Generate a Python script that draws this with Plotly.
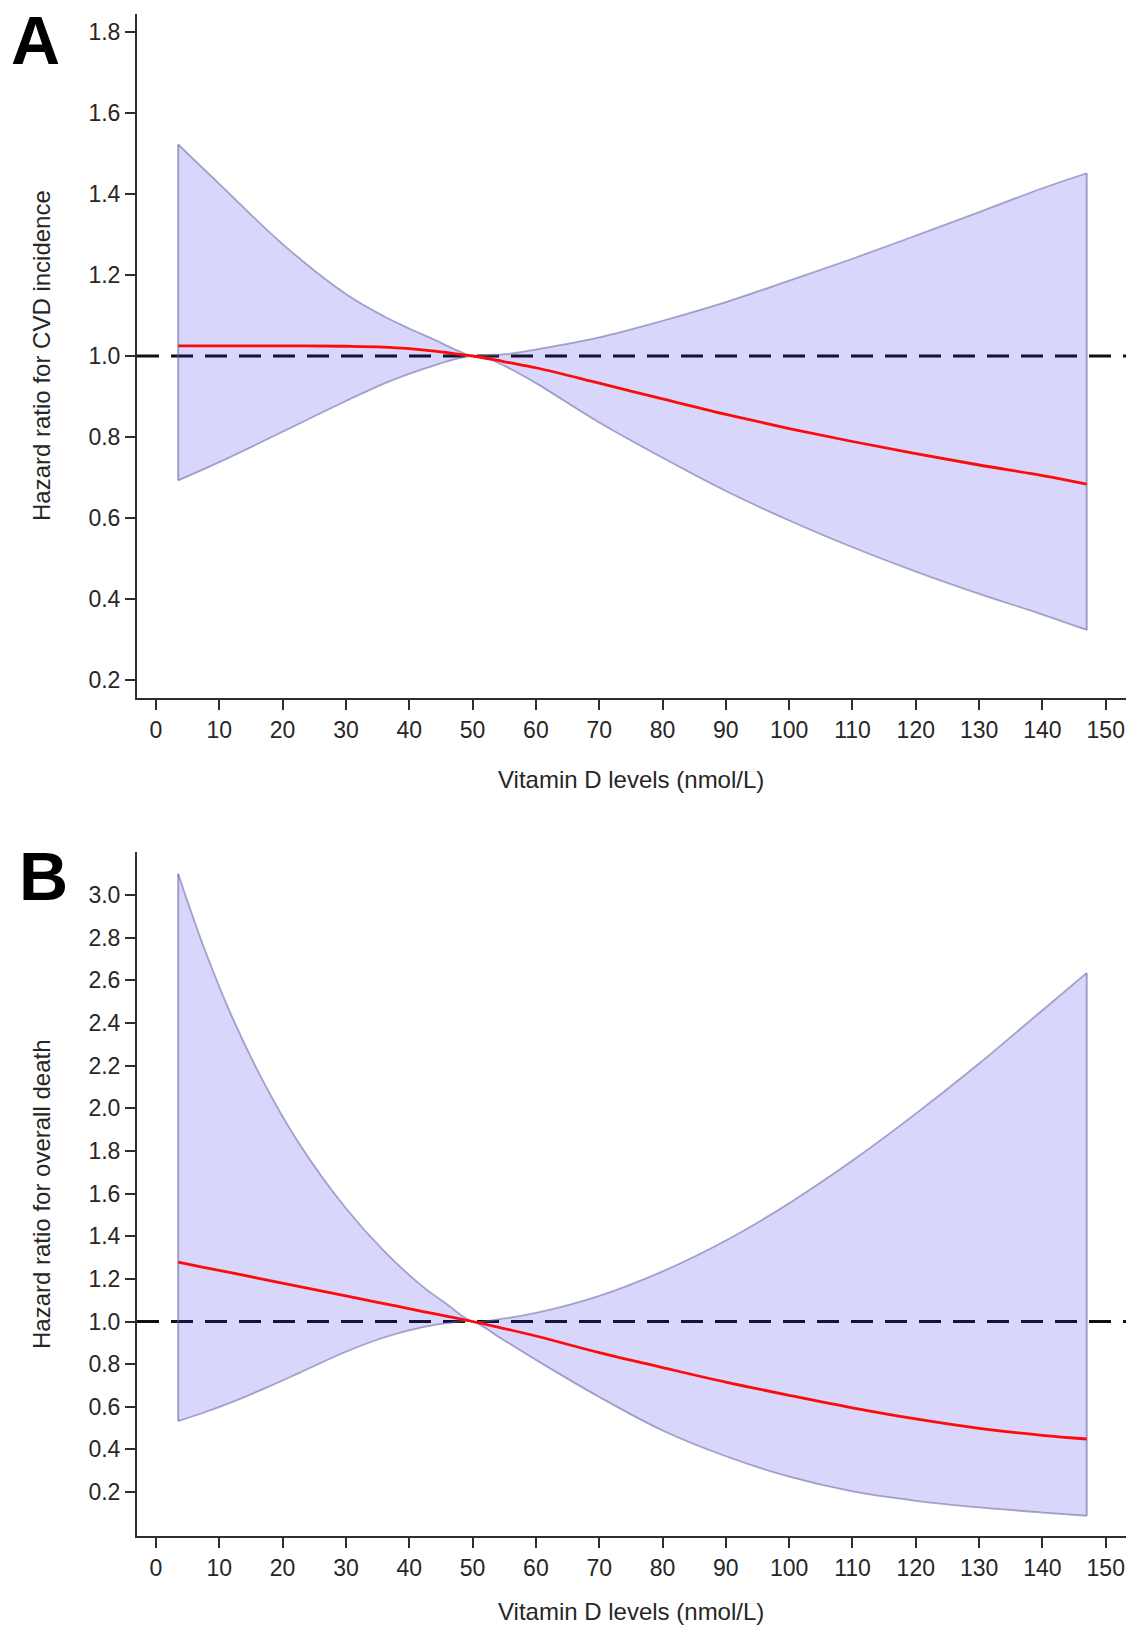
import plotly.graph_objects as go
from plotly.subplots import make_subplots

# ---------------- Data ----------------
# Panel A: CVD incidence
a_x = [3.5, 10, 20, 30, 36, 40, 44, 47, 50, 53, 56, 60, 70, 80, 90, 100, 110, 120, 130, 140, 147]
a_hr = [1.025, 1.025, 1.025, 1.024, 1.022, 1.018, 1.012, 1.006, 1.0, 0.992, 0.983, 0.971, 0.933,
        0.894, 0.856, 0.821, 0.789, 0.759, 0.731, 0.705, 0.684]
a_upper = [1.522, 1.425, 1.276, 1.153, 1.098, 1.068, 1.040, 1.018, 1.0, 1.002, 1.006, 1.016, 1.046,
           1.087, 1.133, 1.186, 1.240, 1.297, 1.355, 1.414, 1.451]
a_lower = [0.693, 0.738, 0.813, 0.889, 0.932, 0.956, 0.977, 0.991, 1.0, 0.990, 0.968, 0.933, 0.836,
           0.749, 0.667, 0.594, 0.528, 0.468, 0.413, 0.362, 0.324]

# Panel B: overall death
b_x = [3.5, 7.5, 12, 17, 22.5, 30, 36, 42, 46, 50, 54, 60, 70, 80, 90, 100, 110, 120, 130, 140, 147]
b_hr = [1.278, 1.254, 1.228, 1.198, 1.165, 1.120, 1.084, 1.048, 1.024, 1.0, 0.974, 0.932, 0.854,
        0.784, 0.716, 0.654, 0.595, 0.543, 0.499, 0.466, 0.449]
b_upper = [3.10, 2.76, 2.43, 2.123, 1.84, 1.531, 1.331, 1.167, 1.08, 1.0, 1.01, 1.04, 1.12, 1.235,
           1.38, 1.555, 1.755, 1.975, 2.21, 2.46, 2.635]
b_lower = [0.533, 0.572, 0.622, 0.684, 0.757, 0.858, 0.925, 0.972, 0.992, 1.0, 0.93, 0.82, 0.646, 0.489,
           0.368, 0.272, 0.203, 0.159, 0.128, 0.104, 0.089]

x_ticks = list(range(0, 151, 10))
a_yticks = [0.2, 0.4, 0.6, 0.8, 1.0, 1.2, 1.4, 1.6, 1.8]
b_yticks = [0.2, 0.4, 0.6, 0.8, 1.0, 1.2, 1.4, 1.6, 1.8, 2.0, 2.2, 2.4, 2.6, 2.8, 3.0]

x_title = "Vitamin D levels (nmol/L)"
a_ytitle = "Hazard ratio for CVD incidence"
b_ytitle = "Hazard ratio for overall death"

# ---------------- Style ----------------
W, H = 1132, 1632
ML, MR, MT, MB = 137, 6, 14, 96
FONT = "Liberation Sans, Arial, sans-serif"
AXIS_COLOR = "#2e2e2e"
TEXT_COLOR = "#262626"
BAND_FILL = "rgba(40,30,230,0.18)"
BAND_LINE = "rgba(100,100,160,0.55)"
RED = "#ff0a0a"
SMOOTH = 1.0

fig = make_subplots(rows=2, cols=1)

def add_panel(row, xs, hr, up, lo):
    fig.add_trace(go.Scatter(x=xs, y=lo, mode="lines",
                             line=dict(color=BAND_LINE, width=1.8, shape="spline", smoothing=SMOOTH),
                             showlegend=False, hoverinfo="skip"), row=row, col=1)
    fig.add_trace(go.Scatter(x=xs, y=up, mode="lines", fill="tonexty", fillcolor=BAND_FILL,
                             line=dict(color=BAND_LINE, width=1.8, shape="spline", smoothing=SMOOTH),
                             showlegend=False, hoverinfo="skip"), row=row, col=1)
    for i in (0, -1):
        fig.add_trace(go.Scatter(x=[xs[i], xs[i]], y=[lo[i], up[i]], mode="lines",
                                 line=dict(color=BAND_LINE, width=2), showlegend=False, hoverinfo="skip"),
                      row=row, col=1)
    fig.add_trace(go.Scatter(x=xs, y=hr, mode="lines",
                             line=dict(color=RED, width=2.8, shape="spline", smoothing=SMOOTH),
                             showlegend=False, hoverinfo="skip"), row=row, col=1)

add_panel(1, a_x, a_hr, a_upper, a_lower)
add_panel(2, b_x, b_hr, b_upper, b_lower)

ph = H - MT - MB
dom_a = [(H - MB - 698) / ph, 1.0]
dom_b = [0.0, (H - MB - 852) / ph]

axis_common = dict(showline=True, linewidth=2, linecolor=AXIS_COLOR, ticks="outside", ticklen=10, tickwidth=2,
                   tickcolor=AXIS_COLOR, showgrid=False, zeroline=False,
                   tickfont=dict(family=FONT, size=23, color=TEXT_COLOR))

fig.update_xaxes(range=[-3.0, 153.2], tickvals=x_ticks, **axis_common)
fig.update_yaxes(**axis_common)
fig.update_layout(
    xaxis=dict(domain=[0, 1]), xaxis2=dict(domain=[0, 1]),
    yaxis=dict(domain=dom_a, range=[0.156, 1.844], tickvals=a_yticks, tickformat=".1f"),
    yaxis2=dict(domain=dom_b, range=[-0.006, 3.202], tickvals=b_yticks, tickformat=".1f"),
)

for xr, yr in (("x", "y"), ("x2", "y2")):
    fig.add_shape(type="line", xref=f"{xr} domain", yref=yr, x0=0, x1=1, y0=1.0, y1=1.0,
                  line=dict(color="#111111", width=3, dash="22px,12px"), layer="below")

def px_to_paper_x(px):
    return (px - ML) / (W - ML - MR)

def py_to_paper_y(py):
    return (H - MB - py) / ph

ann = []
title_font = dict(family=FONT, size=24, color=TEXT_COLOR)
ann.append(dict(text=x_title, x=px_to_paper_x(631), y=py_to_paper_y(779), xref="paper", yref="paper",
                showarrow=False, xanchor="center", yanchor="middle", font=title_font))
ann.append(dict(text=x_title, x=px_to_paper_x(631), y=py_to_paper_y(1611), xref="paper", yref="paper",
                showarrow=False, xanchor="center", yanchor="middle", font=title_font))
ann.append(dict(text=a_ytitle, x=px_to_paper_x(41), y=py_to_paper_y(356), xref="paper", yref="paper",
                showarrow=False, xanchor="center", yanchor="middle", textangle=-90, font=title_font))
ann.append(dict(text=b_ytitle, x=px_to_paper_x(41), y=py_to_paper_y(1194), xref="paper", yref="paper",
                showarrow=False, xanchor="center", yanchor="middle", textangle=-90, font=title_font))
letter_font = dict(family="Liberation Sans, Arial, sans-serif", size=68, color="black")
ann.append(dict(text="<b>A</b>", x=px_to_paper_x(35), y=py_to_paper_y(40), xref="paper", yref="paper",
                showarrow=False, xanchor="center", yanchor="middle", font=letter_font))
ann.append(dict(text="<b>B</b>", x=px_to_paper_x(43), y=py_to_paper_y(876), xref="paper", yref="paper",
                showarrow=False, xanchor="center", yanchor="middle", font=letter_font))

fig.update_layout(
    width=W, height=H,
    margin=dict(l=ML, r=MR, t=MT, b=MB),
    paper_bgcolor="white", plot_bgcolor="white",
    showlegend=False,
    annotations=ann,
)

fig.write_html("out.html", config={"displayModeBar": False},
               post_script="document.body.style.margin='0px';document.body.style.overflow='hidden';")
